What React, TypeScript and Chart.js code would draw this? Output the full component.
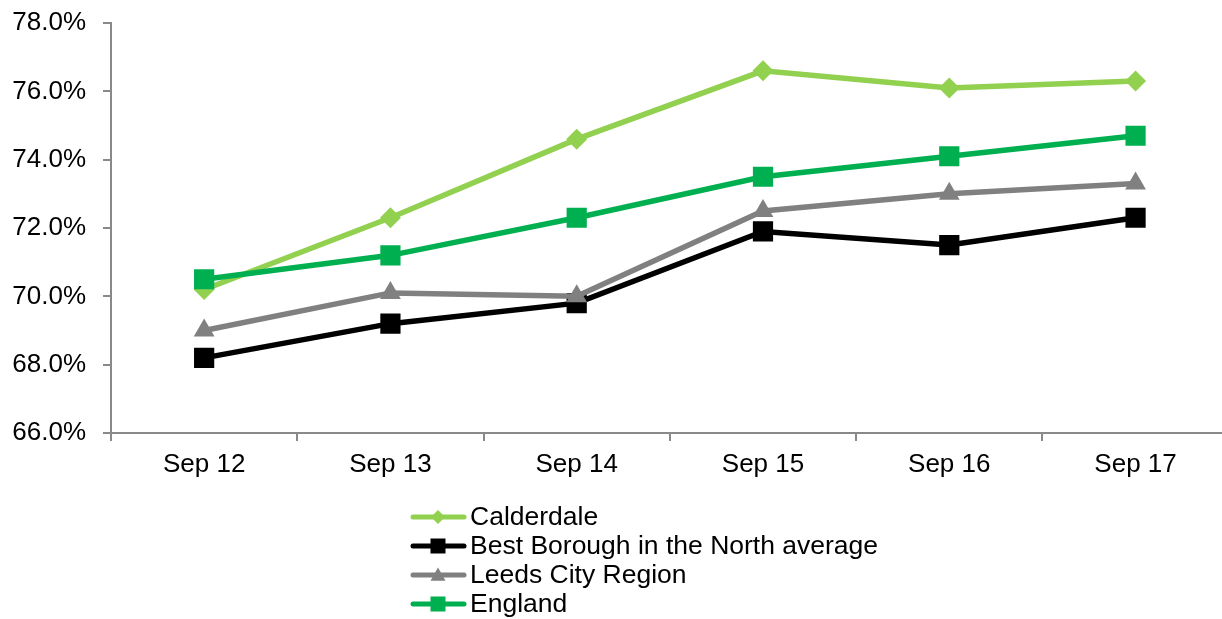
import React, { useEffect, useRef } from 'react';
import { Chart, registerables } from 'chart.js';

Chart.register(...registerables);

const categories = ['Sep 12', 'Sep 13', 'Sep 14', 'Sep 15', 'Sep 16', 'Sep 17'];
const calderdale = [70.2, 72.3, 74.6, 76.6, 76.1, 76.3];
const bestBorough = [68.2, 69.2, 69.8, 71.9, 71.5, 72.3];
const leedsCityRegion = [69.0, 70.1, 70.0, 72.5, 73.0, 73.3];
const england = [70.5, 71.2, 72.3, 73.5, 74.1, 74.7];
const seriesNames = ['Calderdale', 'Best Borough in the North average', 'Leeds City Region', 'England'];
const yMin = 66;
const yMax = 78;
const yStep = 2;

const FONT = '"Liberation Sans", Arial, sans-serif';
const COLORS = ['#92D050', '#000000', '#808080', '#00B050'];
const MARKERS = ['diamond', 'square', 'triangle', 'square'];

function drawMarker(ctx: CanvasRenderingContext2D, kind: string, x: number, y: number, s: number, color: string) {
  ctx.save();
  ctx.fillStyle = color;
  ctx.beginPath();
  if (kind === 'diamond') {
    ctx.moveTo(x, y - s);
    ctx.lineTo(x + s, y);
    ctx.lineTo(x, y + s);
    ctx.lineTo(x - s, y);
    ctx.closePath();
  } else if (kind === 'triangle') {
    ctx.moveTo(x, y - s);
    ctx.lineTo(x + s, y + s * 0.75);
    ctx.lineTo(x - s, y + s * 0.75);
    ctx.closePath();
  } else {
    ctx.rect(x - s, y - s, 2 * s, 2 * s);
  }
  ctx.fill();
  ctx.restore();
}

const legendPlugin = {
  id: 'customLegend',
  afterDraw(chart: any) {
    const ctx: CanvasRenderingContext2D = chart.ctx;
    const rows = [517, 546, 575, 604];
    ctx.save();
    seriesNames.forEach((name, i) => {
      const y = rows[i];
      ctx.strokeStyle = COLORS[i];
      ctx.lineWidth = 5;
      ctx.lineCap = 'round';
      ctx.beginPath();
      ctx.moveTo(413, y);
      ctx.lineTo(464, y);
      ctx.stroke();
      drawMarker(ctx, MARKERS[i], 438, y, MARKERS[i] === 'diamond' ? 7 : 7.5, COLORS[i]);
      ctx.fillStyle = '#000000';
      ctx.font = `26.5px ${FONT}`;
      ctx.textAlign = 'left';
      ctx.textBaseline = 'middle';
      ctx.fillText(name, 470, y + 1);
    });
    ctx.restore();
  },
};

export default function App() {
  const canvasRef = useRef<HTMLCanvasElement | null>(null);

  useEffect(() => {
    if (!canvasRef.current) return;
    const mk = (label: string, data: number[], i: number, style: string, radius: number, order: number) => ({
      label,
      data,
      borderColor: COLORS[i],
      backgroundColor: COLORS[i],
      borderWidth: 5.5,
      pointStyle: style,
      pointRadius: radius,
      pointHoverRadius: radius,
      pointBorderWidth: 0,
      pointBackgroundColor: COLORS[i],
      pointBorderColor: COLORS[i],
      tension: 0,
      order,
    });
    const chart = new Chart(canvasRef.current, {
      type: 'line',
      data: {
        labels: categories,
        datasets: [
          mk(seriesNames[0], calderdale, 0, 'rectRot', 10.5, 4),
          mk(seriesNames[1], bestBorough, 1, 'rect', 14.3, 3),
          mk(seriesNames[2], leedsCityRegion, 2, 'triangle', 12, 2),
          mk(seriesNames[3], england, 3, 'rect', 14.3, 1),
        ],
      },
      options: {
        responsive: false,
        animation: false,
        layout: { padding: { left: 0, right: 4, top: 23, bottom: 126 } },
        plugins: { legend: { display: false }, tooltip: { enabled: false } },
        scales: {
          x: {
            offset: true,
            grid: { offset: true, drawOnChartArea: false, drawTicks: true, tickLength: 8, color: '#898989', lineWidth: 2 },
            border: { display: true, color: '#898989', width: 2 },
            ticks: { color: '#000000', font: { family: FONT, size: 26 }, padding: 8, maxRotation: 0, autoSkip: false },
            afterFit: (scale: any) => { scale.height = 60; },
          },
          y: {
            min: yMin,
            max: yMax,
            grid: { drawOnChartArea: false, drawTicks: true, tickLength: 8, color: '#898989', lineWidth: 2 },
            border: { display: true, color: '#898989', width: 2 },
            ticks: {
              stepSize: yStep,
              color: '#000000',
              font: { family: FONT, size: 26 },
              padding: 17,
              callback: (v: any) => Number(v).toFixed(1) + '%',
            },
            afterFit: (scale: any) => {
              scale.width = 111;
              scale.paddingTop = 0;
              scale.paddingBottom = 0;
            },
          },
        },
      },
      plugins: [legendPlugin],
    });
    return () => chart.destroy();
  }, []);

  return (
    <div style={{ position: 'fixed', left: 0, top: 0, width: 1222, height: 619, overflow: 'hidden', background: '#ffffff' }}>
      <canvas ref={canvasRef} width={1243} height={619} style={{ display: 'block' }} />
    </div>
  );
}
